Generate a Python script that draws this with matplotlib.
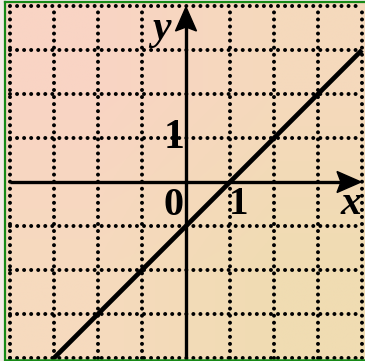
import numpy as np
import matplotlib
matplotlib.use("Agg")
import matplotlib.pyplot as plt
from matplotlib.patches import Polygon

# grid values (unit squares), the line y = x - 1
grid_vals = [-4, -3, -2, -1, 1, 2, 3, 4]
line_x = [-3, 4]
line_y = [-4, 3]
tick_labels = ["0", "1", "1"]
axis_names = ["x", "y"]

PX = 44.0  # pixels per unit in the picture
W, H = 365, 361
ox, oy = 186, 182  # origin in pixels

fig = plt.figure(figsize=(W / 100, H / 100), dpi=100)
fig.patch.set_facecolor("#f3ece8")
ax = fig.add_axes([0, 0, 1, 1])
ax.set_xlim(-ox / PX, (W - ox) / PX)
ax.set_ylim((oy - H) / PX, oy / PX)
ax.set_aspect("auto")
ax.axis("off")

# peach background, pink top-left to sand bottom-right
c_tl = np.array([249, 212, 196]) / 255
c_tr = np.array([245, 217, 188]) / 255
c_bl = np.array([246, 218, 190]) / 255
c_br = np.array([240, 220, 178]) / 255
grad = np.array([[c_tl, c_tr], [c_bl, c_br]])
x0 = (4.5 - ox) / PX
y_top = (oy - 1.5) / PX
y_bot = (oy - 359.5) / PX
ax.imshow(grad, extent=[x0, (W - ox) / PX, y_bot, y_top],
          interpolation="bilinear", aspect="auto", zorder=0)

# dotted grid
dots = (0, (0.001, 1.75))
for v in grid_vals:
    ax.plot([v, v], [-4, 4], color="black", lw=2.9, linestyle=dots,
            dash_capstyle="round", zorder=1)
    ax.plot([-4, 4], [v, v], color="black", lw=2.9, linestyle=dots,
            dash_capstyle="round", zorder=1)

# axes
ax.plot([-4, 4.0 - 16 / PX], [0, 0], color="black", lw=2.4, zorder=3,
        solid_capstyle="butt")
ax.plot([0, 0], [(oy - H) / PX, 4.0 - 16 / PX], color="black", lw=2.4,
        zorder=3, solid_capstyle="butt")

# arrow heads (slightly notched)
L, hw, notch = 24 / PX, 10.5 / PX, 4 / PX
tipx = (361 - ox) / PX
ax.add_patch(Polygon([[tipx, 0], [tipx - L, hw], [tipx - L + notch, 0],
                      [tipx - L, -hw]], closed=True, color="black", zorder=4))
tipy = (oy - 7) / PX
ax.add_patch(Polygon([[0, tipy], [hw, tipy - L], [0, tipy - L + notch],
                      [-hw, tipy - L]], closed=True, color="black", zorder=4))

# the line
ax.plot(line_x, line_y, color="black", lw=3.4, solid_capstyle="butt", zorder=5)

# labels
fam = ["Liberation Serif", "DejaVu Serif"]
ax.text(-0.29, -0.53, tick_labels[0], fontsize=29, fontweight="bold",
        family=fam, ha="center", va="center", zorder=6)
ax.text(1.19, -0.52, tick_labels[1], fontsize=28, fontweight="bold",
        family=fam, ha="center", va="center", zorder=6)
ax.text(-0.26, 0.99, tick_labels[2], fontsize=30, fontweight="bold",
        family=fam, ha="center", va="center", zorder=6)
ax.text(3.76, -0.50, axis_names[0], fontsize=30, fontweight="bold",
        style="italic", family=fam, ha="center", va="center", zorder=6)
ax.text(-0.55, 3.48, axis_names[1], fontsize=30, fontweight="bold",
        style="italic", family=fam, ha="center", va="center", zorder=6)

# green frame (top, left, bottom)
g = "#178a17"
fig.lines.append(plt.Line2D([4.5 / W, 1], [1 - 1.5 / H] * 2, color=g, lw=1.6,
                            transform=fig.transFigure))
fig.lines.append(plt.Line2D([4.5 / W] * 2, [1 - 1.5 / H, 1 - 359.5 / H],
                            color=g, lw=1.6, transform=fig.transFigure))
fig.lines.append(plt.Line2D([4.5 / W, 1], [1 - 359.5 / H] * 2, color=g,
                            lw=1.8, transform=fig.transFigure))

fig.savefig("out.png", dpi=100)
